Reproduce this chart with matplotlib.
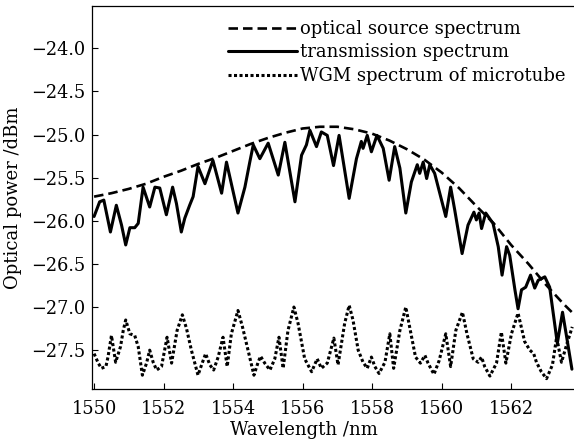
import matplotlib
matplotlib.use("Agg")
import matplotlib.pyplot as plt

plt.rcParams['font.family'] = ['DejaVu Serif']
plt.rcParams['mathtext.fontset'] = 'dejavuserif'

# optical source spectrum (dashed)
src_x = [1550.0, 1550.5, 1551.0, 1551.5, 1552.0, 1552.5, 1553.0, 1553.5, 1554.0, 1554.5,
         1555.0, 1555.5, 1556.0, 1556.5, 1557.0, 1557.5, 1558.0, 1558.5, 1559.0, 1559.5,
         1560.0, 1560.5, 1561.0, 1561.5, 1562.0, 1562.5, 1563.0, 1563.5, 1563.8]
src_y = [-25.72, -25.68, -25.63, -25.57, -25.49, -25.42, -25.34, -25.27, -25.19, -25.11,
         -25.04, -24.98, -24.93, -24.91, -24.91, -24.94, -24.99, -25.07, -25.17, -25.29,
         -25.44, -25.62, -25.83, -26.03, -26.28, -26.50, -26.74, -26.96, -27.08]

# transmission spectrum (solid)
tr_x = [1550.00, 1550.16, 1550.28, 1550.47, 1550.64, 1550.79, 1550.91, 1551.03, 1551.17, 1551.27,
        1551.41, 1551.60, 1551.75, 1551.89, 1552.08, 1552.26, 1552.37, 1552.51, 1552.61, 1552.75,
        1552.85, 1552.99, 1553.19, 1553.42, 1553.67, 1553.81, 1554.14, 1554.34, 1554.48, 1554.58,
        1554.77, 1555.01, 1555.30, 1555.49, 1555.78, 1555.97, 1556.11, 1556.21, 1556.40, 1556.54,
        1556.71, 1556.89, 1557.05, 1557.34, 1557.55, 1557.69, 1557.74, 1557.86, 1557.98, 1558.14,
        1558.32, 1558.49, 1558.65, 1558.80, 1558.97, 1559.13, 1559.30, 1559.37, 1559.47, 1559.57,
        1559.66, 1559.80, 1560.12, 1560.26, 1560.38, 1560.59, 1560.76, 1560.93, 1561.00, 1561.08,
        1561.15, 1561.27, 1561.48, 1561.63, 1561.74, 1561.87, 1561.96, 1562.11, 1562.20, 1562.30,
        1562.42, 1562.56, 1562.68, 1562.78, 1562.97, 1563.11, 1563.33, 1563.48, 1563.60, 1563.75]
tr_y = [-25.95, -25.78, -25.76, -26.13, -25.82, -26.05, -26.28, -26.08, -26.08, -26.03,
        -25.61, -25.84, -25.61, -25.62, -25.93, -25.61, -25.80, -26.13, -25.97, -25.82,
        -25.72, -25.37, -25.57, -25.30, -25.68, -25.32, -25.91, -25.61, -25.32, -25.12,
        -25.28, -25.10, -25.47, -25.09, -25.78, -25.24, -25.12, -24.95, -25.14, -24.97,
        -25.01, -25.36, -25.01, -25.74, -25.28, -25.08, -25.16, -25.01, -25.20, -25.01,
        -25.16, -25.53, -25.14, -25.39, -25.91, -25.55, -25.35, -25.45, -25.32, -25.51,
        -25.35, -25.45, -25.95, -25.61, -25.88, -26.38, -26.05, -25.90, -25.99, -25.91,
        -26.09, -25.91, -26.03, -26.30, -26.63, -26.30, -26.40, -26.80, -27.02, -26.80,
        -26.77, -26.63, -26.78, -26.69, -26.65, -26.77, -27.42, -27.06, -27.35, -27.72]

# WGM spectrum of microtube (dotted)
wgm_x = [1550.00, 1550.12, 1550.21, 1550.34, 1550.40, 1550.50, 1550.62, 1550.76, 1550.84, 1550.91,
         1551.03, 1551.17, 1551.27, 1551.39, 1551.51, 1551.60, 1551.70, 1551.80, 1551.94, 1552.10,
         1552.23, 1552.39, 1552.54, 1552.66, 1552.80, 1552.99, 1553.12, 1553.21, 1553.33, 1553.44,
         1553.57, 1553.71, 1553.83, 1553.95, 1554.14, 1554.27, 1554.43, 1554.60, 1554.72, 1554.79,
         1554.91, 1555.06, 1555.20, 1555.32, 1555.44, 1555.58, 1555.75, 1555.87, 1556.06, 1556.26,
         1556.42, 1556.54, 1556.71, 1556.90, 1557.02, 1557.21, 1557.34, 1557.45, 1557.60, 1557.74,
         1557.86, 1557.98, 1558.08, 1558.20, 1558.37, 1558.51, 1558.62, 1558.80, 1558.97, 1559.08,
         1559.25, 1559.39, 1559.52, 1559.61, 1559.78, 1559.93, 1560.12, 1560.26, 1560.41, 1560.60,
         1560.73, 1560.91, 1561.05, 1561.15, 1561.24, 1561.39, 1561.58, 1561.72, 1561.85, 1562.01,
         1562.20, 1562.39, 1562.54, 1562.65, 1562.73, 1562.87, 1563.02, 1563.19, 1563.31, 1563.45,
         1563.61, 1563.76]
wgm_y = [-27.54, -27.65, -27.71, -27.69, -27.58, -27.33, -27.64, -27.46, -27.27, -27.15,
         -27.31, -27.33, -27.46, -27.79, -27.65, -27.50, -27.64, -27.73, -27.69, -27.35,
         -27.65, -27.27, -27.09, -27.25, -27.50, -27.79, -27.64, -27.54, -27.67, -27.73,
         -27.58, -27.35, -27.69, -27.31, -27.04, -27.23, -27.50, -27.79, -27.64, -27.57,
         -27.65, -27.73, -27.60, -27.35, -27.71, -27.27, -27.00, -27.19, -27.60, -27.75,
         -27.60, -27.71, -27.65, -27.36, -27.67, -27.19, -26.98, -27.15, -27.50, -27.64,
         -27.71, -27.58, -27.69, -27.77, -27.64, -27.31, -27.71, -27.27, -27.00, -27.23,
         -27.58, -27.65, -27.56, -27.65, -27.78, -27.62, -27.31, -27.69, -27.27, -27.06,
         -27.31, -27.60, -27.64, -27.58, -27.69, -27.80, -27.65, -27.29, -27.65, -27.31,
         -27.07, -27.40, -27.50, -27.54, -27.64, -27.75, -27.83, -27.67, -27.35, -27.64,
         -27.42, -27.23]

labels = ["optical source spectrum", "transmission spectrum", "WGM spectrum of microtube"]
xticks = [1550, 1552, 1554, 1556, 1558, 1560, 1562]
yticks = [-24.0, -24.5, -25.0, -25.5, -26.0, -26.5, -27.0, -27.5]

fig = plt.figure(figsize=(5.74, 4.45), dpi=100)
ax = fig.add_axes([92/574, 1 - 389/445, 1 - 92/574, (389 - 6)/445])

l1, = ax.plot(src_x, src_y, color='black', lw=1.9, linestyle=(0, (3.6, 1.9)),
              solid_joinstyle='round', dash_capstyle='butt')
l2, = ax.plot(tr_x, tr_y, color='black', lw=2.2, solid_joinstyle='round',
              solid_capstyle='round')
l3, = ax.plot(wgm_x, wgm_y, color='black', lw=2.2, linestyle=(0, (1.0, 0.8)),
              dash_joinstyle='round')

ax.set_xlim(1549.94, 1563.81)
ax.set_ylim(-27.95, -23.51)
ax.set_xticks(xticks)
ax.set_xticklabels([str(t) for t in xticks])
ax.set_yticks(yticks)
ax.set_yticklabels([("%.1f" % t).replace('-', '\u2212') for t in yticks])
ax.tick_params(direction='in', length=4, width=0.8, labelsize=12.8)
ax.tick_params(axis='x', pad=8)
ax.tick_params(axis='y', pad=5)
ax.spines['right'].set_visible(False)
for s in ['left', 'bottom', 'top']:
    ax.spines[s].set_linewidth(0.9)

ax.set_xlabel("Wavelength /nm", fontsize=13)
ax.xaxis.set_label_coords((303.5 - 92) / 482, -(430 - 389) / 383, transform=ax.transAxes)
ax.xaxis.label.set_va('center')
ax.set_ylabel("Optical power /dBm", fontsize=13, labelpad=6)

leg = fig.legend([l1, l2, l3], labels, loc='upper left',
                 bbox_to_anchor=(228/574, 1 - 20/445), bbox_transform=fig.transFigure,
                 frameon=False, fontsize=13, handlelength=3.8, handletextpad=0.2,
                 labelspacing=0.3, borderpad=0, borderaxespad=0)

fig.savefig("out.png", dpi=100)
